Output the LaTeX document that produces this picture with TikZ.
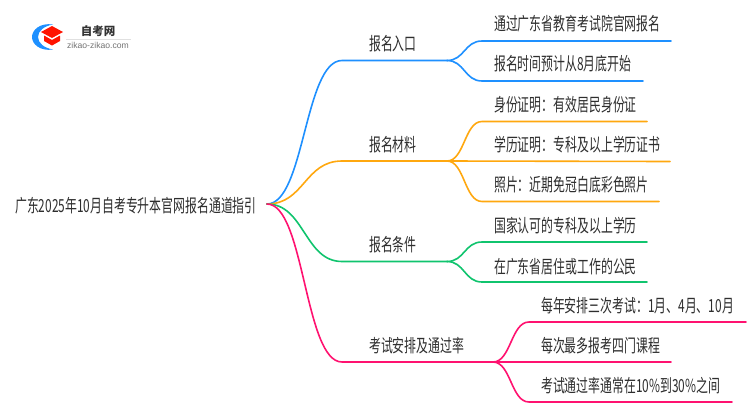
\documentclass[tikz,border=0pt]{standalone}
\usepackage{fontspec}
\setmainfont[FakeStretch=0.66]{Noto Sans CJK SC}
\newfontfamily\logofont{Noto Sans CJK SC}
\newfontfamily\urlfont{Liberation Sans}
\usetikzlibrary{calc}
\definecolor{cblue}{HTML}{1E90FF}
\definecolor{corange}{HTML}{FFA80F}
\definecolor{cgreen}{HTML}{10C46E}
\definecolor{cpink}{HTML}{FF1270}
\definecolor{ctext}{HTML}{2E2E2E}
\tikzset{
  x=1pt,y=-1pt,
  txt/.style={anchor=west,inner sep=0pt,text=ctext,font=\fontsize{18}{20}\selectfont},
  link/.style={line width=1.6pt,line cap=round}
}
% S-curve from #2 to #3 with level ends, then a straight run to #4
\newcommand{\branch}[4]{\draw[link,#1] (#2) .. controls ($(#2)!0.5!(#2-|#3)$) and ($(#3)!0.5!(#2|-#3)$) .. (#3) -- (#4);}
\begin{document}
\begin{tikzpicture}
\useasboundingbox (0,0) rectangle (750,410);
\fill[white] (0,0) rectangle (750,410);
% logo
\fill[cblue] (53,24.5) .. controls (40,22.5) and (32,30) .. (32,37) .. controls (32,44) and (40,51.5) .. (53,49.5) .. controls (44,48) and (38,43) .. (38,37) .. controls (38,31) and (44,26) .. (53,24.5) -- cycle;
\fill[red!85!orange] (52,26) -- (63,32) -- (52,38) -- (41,32) -- cycle;
\fill[red!85!orange] (44,35.5) -- (52,40) -- (60,35.5) -- (60,41) -- (52,45.5) -- (44,41) -- cycle;
\node[inner sep=0pt,text=black!80,font=\logofont\bfseries\fontsize{11.5}{12}\selectfont] (lt) at (98,31) {自考网};
\node[inner sep=0pt,text=black!55,font=\urlfont\fontsize{8.6}{9}\selectfont] (lu) at (98,45) {zikao-zikao.com};
\draw[black!12,line width=0.6pt] (66,39) -- (131,39);
% texts
\node[txt] (root) at (15,206) {广东2025年10月自考专升本官网报名通道指引};
\node[txt] (a) at (369,44) {报名入口};
\node[txt] (b) at (369,145) {报名材料};
\node[txt] (c) at (369,245) {报名条件};
\node[txt] (d) at (369,346) {考试安排及通过率};
\node[txt] (a1) at (494,24) {通过广东省教育考试院官网报名};
\node[txt] (a2) at (494,64) {报名时间预计从8月底开始};
\node[txt] (b1) at (494,105) {身份证明：有效居民身份证};
\node[txt] (b2) at (494,145) {学历证明：专科及以上学历证书};
\node[txt] (b3) at (494,185) {照片：近期免冠白底彩色照片};
\node[txt] (c1) at (494,226) {国家认可的专科及以上学历};
\node[txt] (c2) at (494,267) {在广东省居住或工作的公民};
\node[txt] (d1) at (541,306) {每年安排三次考试：1月、4月、10月};
\node[txt] (d2) at (541,346) {每次最多报考四门课程};
\node[txt] (d3) at (541,386) {考试通过率通常在10\%到30\%之间};
% junction coordinates
\coordinate (r) at (267,204);
\coordinate (a0) at (342,60.5); \coordinate (aj) at (447,60.5);
\coordinate (b0) at (342,161); \coordinate (bj) at (447,161);
\coordinate (c0) at (342,261.5); \coordinate (cj) at (447,261.5);
\coordinate (d0) at (342,362); \coordinate (dj) at (493,362);
\coordinate (a1s) at (482,41); \coordinate (a1e) at (671,41);
\coordinate (a2s) at (482,81); \coordinate (a2e) at (643,81);
\coordinate (b1s) at (482,121.5); \coordinate (b1e) at (647,121.5);
\coordinate (b2e) at (670,161.5);
\coordinate (b3s) at (482,201.5); \coordinate (b3e) at (659,201.5);
\coordinate (c1s) at (482,242); \coordinate (c1e) at (647,242);
\coordinate (c2s) at (482,282); \coordinate (c2e) at (647,282);
\coordinate (d1s) at (529,322); \coordinate (d1e) at (746,322);
\coordinate (d2e) at (671,362);
\coordinate (d3s) at (529,402); \coordinate (d3e) at (732,402);
% connectors
\branch{cblue}{r}{a0}{aj}
\branch{corange}{r}{b0}{bj}
\branch{cgreen}{r}{c0}{cj}
\branch{cpink}{r}{d0}{dj}
\branch{cblue}{aj}{a1s}{a1e}
\branch{cblue}{aj}{a2s}{a2e}
\branch{corange}{bj}{b1s}{b1e}
\draw[link,corange] (bj) -- (b2e);
\branch{corange}{bj}{b3s}{b3e}
\branch{cgreen}{cj}{c1s}{c1e}
\branch{cgreen}{cj}{c2s}{c2e}
\branch{cpink}{dj}{d1s}{d1e}
\draw[link,cpink] (dj) -- (d2e);
\branch{cpink}{dj}{d3s}{d3e}
\end{tikzpicture}
\end{document}
